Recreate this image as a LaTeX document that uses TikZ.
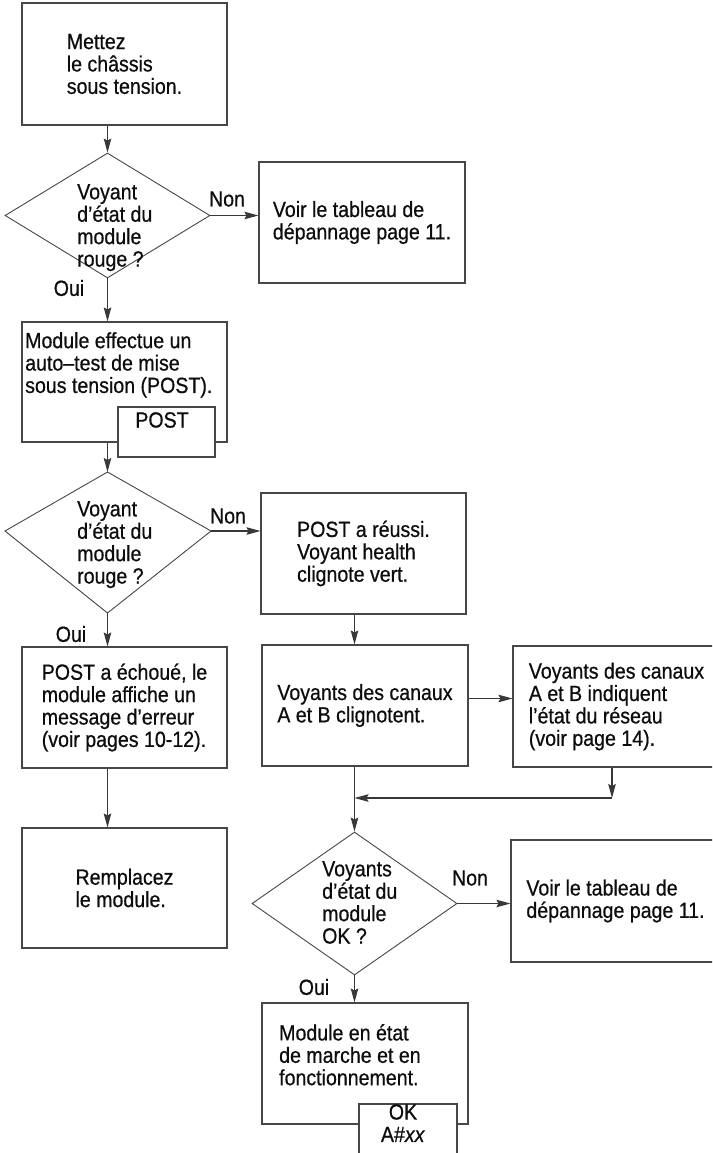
\documentclass[tikz,border=0pt]{standalone}
\usepackage{fontspec}
\setmainfont{Liberation Sans}[FakeStretch=0.89, FakeBold=0.6]
\usetikzlibrary{arrows.meta, calc, positioning, shapes.geometric}
\tikzset{
    box/.style={rectangle, draw=black!72, line width=1.1pt, fill=white, align=left, inner sep=0pt,
        minimum width=205pt, minimum height=121pt},
    tab/.style={rectangle, draw=black!72, line width=1.1pt, fill=white, inner sep=0pt},
    txt/.style={align=left, inner sep=0pt, text=black!95},
    decision/.style={diamond, draw=black!72, line width=0.9pt, inner sep=0pt, minimum width=205pt},
    arrow/.style={-{Stealth[length=14pt, width=7.5pt, inset=2pt]}, line width=1.1pt, draw=black!78},
    lbl/.style={inner sep=0pt, text=black!95},
}

\begin{document}
\begin{tikzpicture}[x=1pt, y=-1pt, font=\fontsize{22}{22.4}\selectfont]
    \clip (0,0) rectangle (712,1153);
    % left column
    \node[box, minimum height=122pt, text=black!95] (power) at (124.5,64) {Mettez\\le châssis\\sous tension.};
    \node[decision, minimum height=125pt] (d1) at (107.5,215.5) {};
    \node[txt, anchor=north west] (d1txt) at (77,184) {Voyant\\d’état du\\module\\rouge ?};
    \node[box, minimum width=206pt, text=black!95] (voir1) at (362,222.5) {Voir le tableau de\\dépannage page 11.};
    \node[box, minimum height=120pt] (selftest) at (124.5,382) {};
    \node[txt, anchor=north west] (selftesttxt) at (25,332) {Module effectue un\\auto–test de mise\\sous tension (POST).};
    \node[tab, minimum width=97pt, minimum height=50pt] (posttab) at (166.5,432) {};
    \node[txt, anchor=north] (posttxt) at (162,412) {POST};
    % second test, drawn from its corners
    \coordinate (d2n) at (107.5,472);
    \coordinate (d2w) at (5,531);
    \coordinate (d2e) at (211,531);
    \coordinate (d2s) at (107.5,613);
    \draw[draw=black!72, line width=0.9pt] (d2n) -- (d2e) -- (d2s) -- (d2w) -- cycle;
    \node[txt, anchor=north west] (d2txt) at (77,501) {Voyant\\d’état du\\module\\rouge ?};
    \node[box, text=black!95] (passed) at (363.5,553.5) {POST a réussi.\\Voyant health\\clignote vert.};
    \node[box, text=black!95] (failed) at (124.5,707.5) {POST a échoué, le\\module affiche un\\message d’erreur\\(voir pages 10-12).};
    \node[box, minimum height=120pt, text=black!95] (replace) at (124.5,888) {Remplacez\\le module.};
    % right column
    \node[box, minimum width=206pt, text=black!95] (blink) at (365,705.5) {Voyants des canaux\\A et B clignotent.};
    \node[box, minimum width=207pt, text=black!95] (netstat) at (616.5,706.5) {Voyants des canaux\\A et B indiquent\\l’état du réseau\\(voir page 14).};
    \coordinate (turn) at (612,798);
    \coordinate (merge) at (354.5,798);
    \node[decision, minimum height=143pt] (d3) at (354.5,903.5) {};
    \node[txt, anchor=north west] (d3txt) at (322,861) {Voyants\\d’état du\\module\\OK ?};
    \node[box, minimum width=209pt, minimum height=122pt, text=black!95] (voir3) at (615.5,901) {Voir le tableau de\\dépannage page 11.};
    \node[box, minimum width=206pt] (running) at (365,1063.5) {};
    \node[txt, anchor=north west] (runningtxt) at (279,1024) {Module en état\\de marche et en\\fonctionnement.};
    \node[tab, minimum width=98pt, minimum height=62pt] (oktab) at (408,1135) {};
    \node[txt, anchor=north, align=center] (oktxt) at (403,1104) {OK\\A\#\textit{xx}};
    % labels
    \node[lbl] (non1) at (227,199) {Non};
    \node[lbl] (oui1) at (69,288) {Oui};
    \node[lbl] (non2) at (228,516) {Non};
    \node[lbl] (oui2) at (71,634) {Oui};
    \node[lbl] (non3) at (470,878) {Non};
    \node[lbl] (oui3) at (314,987) {Oui};
    % connectors
    \coordinate (ab) at ([yshift=7pt]blink.east);
    \draw[arrow] (d1 |- power.south) -- (d1.north);
    \draw[arrow] (d1.east) -- (d1.east -| voir1.west);
    \draw[arrow] (d1.south) -- (d1 |- selftest.north);
    \draw[arrow] (d2n |- selftest.south) -- (d2n);
    \draw[arrow] (d2e) -- (d2e -| passed.west);
    \draw[arrow] (d2s) -- (d2s |- failed.north);
    \draw[arrow] (d1 |- failed.south) -- (d1 |- replace.north);
    \draw[arrow] (d3 |- passed.south) -- (d3 |- blink.north);
    \draw[arrow] (ab) -- (ab -| netstat.west);
    \draw[arrow] (turn |- netstat.south) -- (turn);
    \draw[arrow] (turn) -- (merge);
    \draw[arrow] (d3 |- blink.south) -- (d3.north);
    \draw[arrow] (d3.east) -- (d3.east -| voir3.west);
    \draw[arrow] (d3.south) -- (d3.south |- running.north);
\end{tikzpicture}
\end{document}
